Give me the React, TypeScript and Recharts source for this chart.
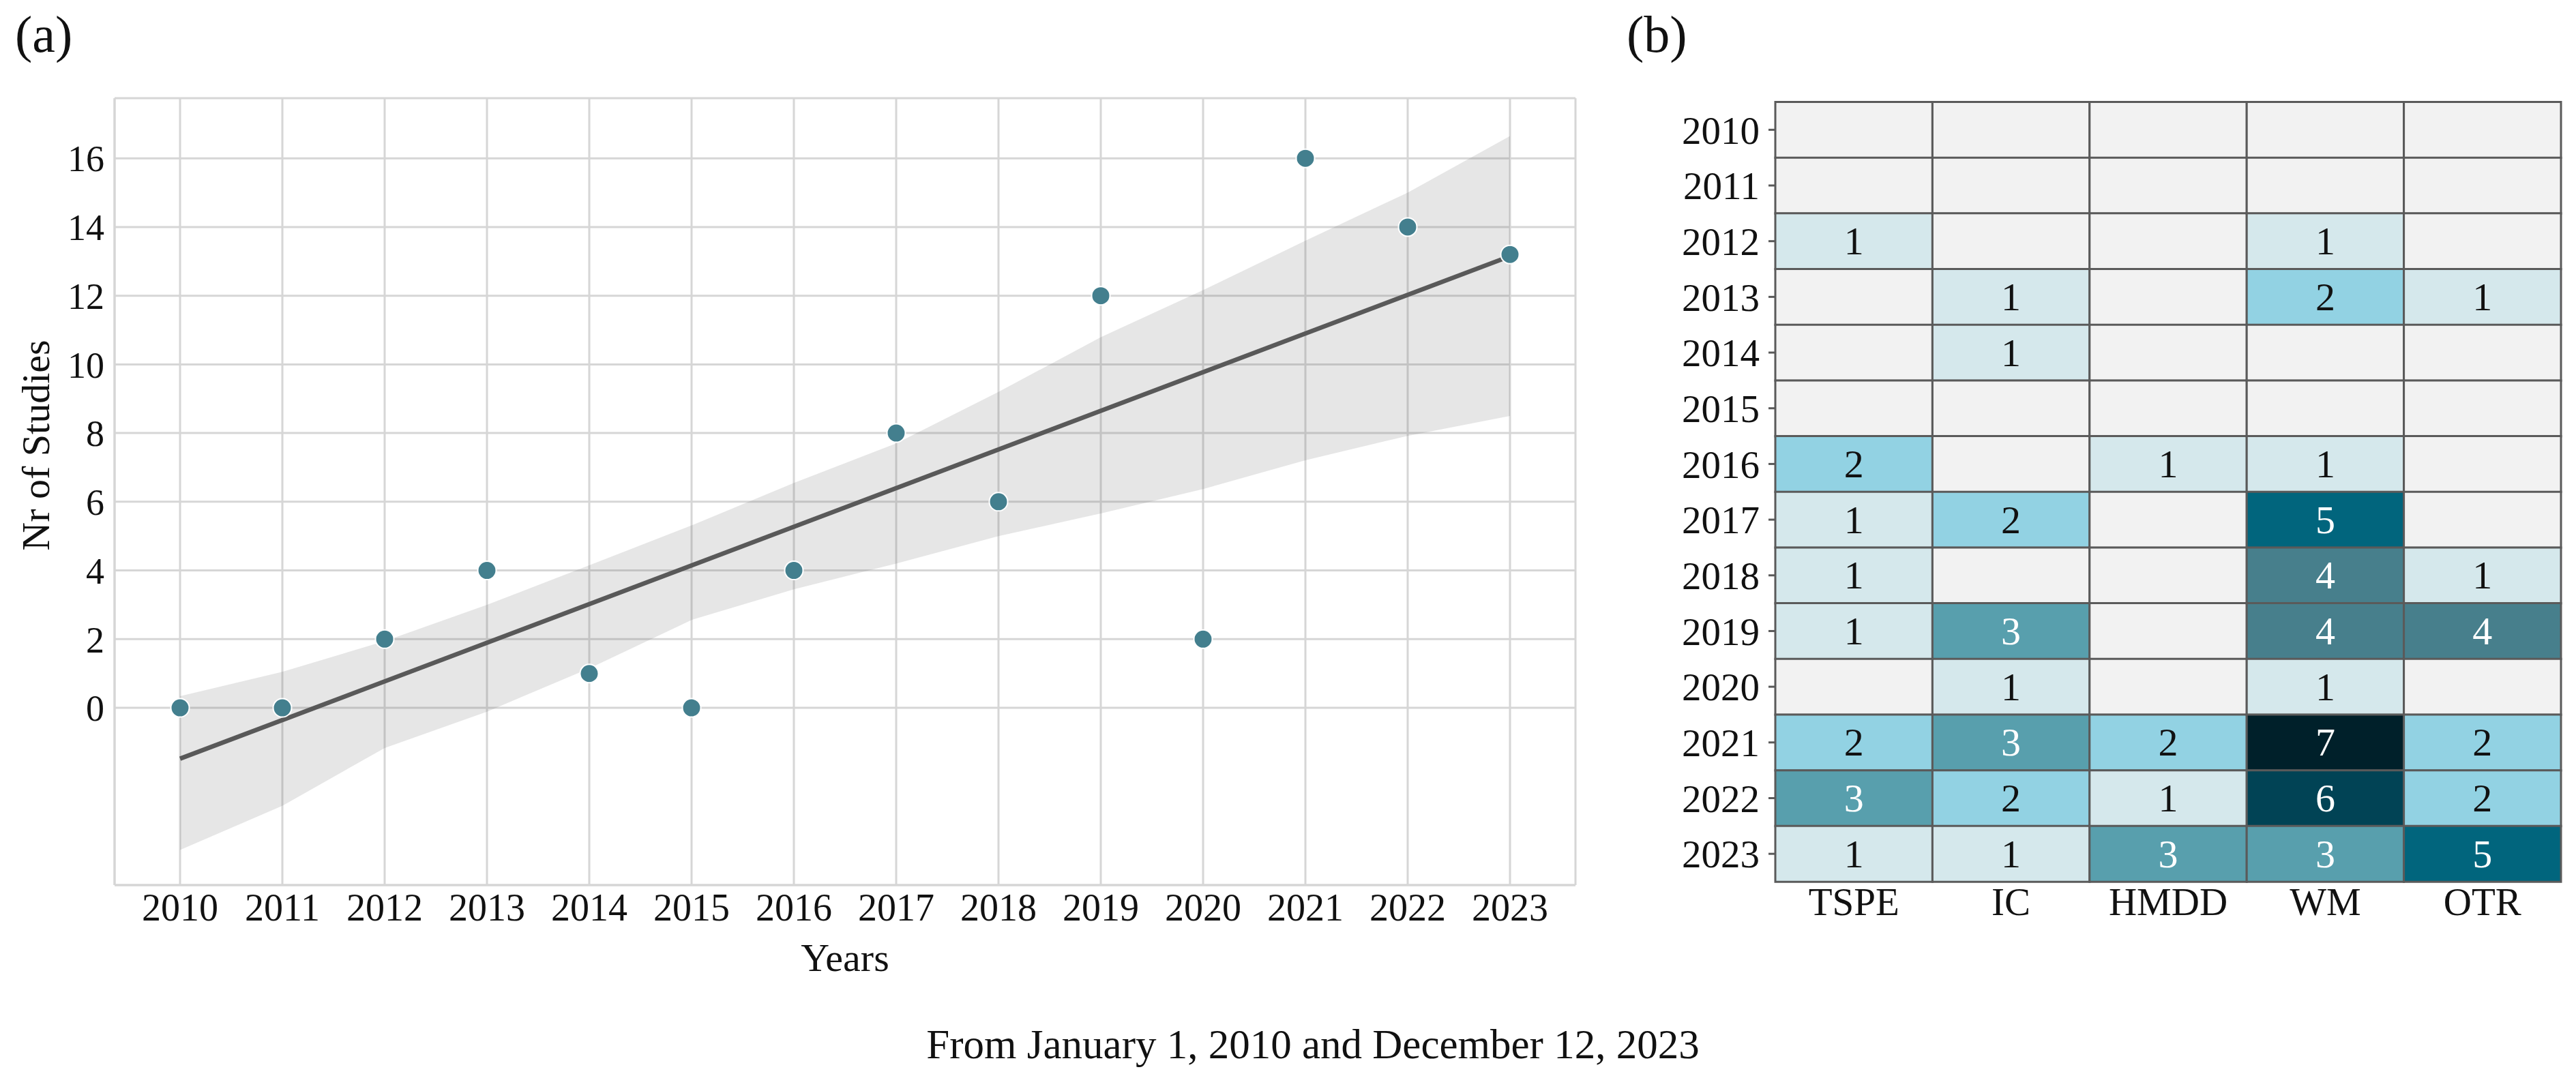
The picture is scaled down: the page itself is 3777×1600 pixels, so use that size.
import React from 'react';
import {
  ComposedChart,
  BarChart,
  Bar,
  Cell,
  LabelList,
  XAxis,
  YAxis,
  CartesianGrid,
  Area,
  Line,
  Scatter,
  Label,
} from 'recharts';

// ---------- data: panel (a) ----------
const years = [2010, 2011, 2012, 2013, 2014, 2015, 2016, 2017, 2018, 2019, 2020, 2021, 2022, 2023];
const studies = [0, 0, 2, 4, 1, 0, 4, 8, 6, 12, 2, 16, 14, 13.2];
const bandLow = [-4.14, -2.85, -1.17, -0.11, 1.15, 2.56, 3.45, 4.2, 5.0, 5.66, 6.37, 7.21, 7.92, 8.5];
const bandHigh = [0.34, 1.05, 1.94, 3.0, 4.15, 5.31, 6.55, 7.7, 9.2, 10.79, 12.16, 13.6, 15.0, 16.65];
const fitYears = [2010, 2023];
const fitValues = [-1.48, 13.15];
const yTicks = [0, 2, 4, 6, 8, 10, 12, 14, 16];
const xDomain = [2009.36, 2023.64];
const yDomain = [-5.16, 17.75];

// ---------- data: panel (b) ----------
const categories = ['TSPE', 'IC', 'HMDD', 'WM', 'OTR'];
const tspe = [0, 0, 1, 0, 0, 0, 2, 1, 1, 1, 0, 2, 3, 1];
const ic = [0, 0, 0, 1, 1, 0, 0, 2, 0, 3, 1, 3, 2, 1];
const hmdd = [0, 0, 0, 0, 0, 0, 1, 0, 0, 0, 0, 2, 1, 3];
const wm = [0, 0, 1, 2, 0, 0, 1, 5, 4, 4, 1, 7, 6, 3];
const otr = [0, 0, 0, 1, 0, 0, 0, 0, 1, 4, 0, 2, 2, 5];
const heatSeries = [tspe, ic, hmdd, wm, otr];
const colTicks = [0.5, 1.5, 2.5, 3.5, 4.5];

const heatColors = ['#f2f2f2', '#d5e8ec', '#92d2e3', '#589fad', '#477f8c', '#01657d', '#014355', '#00202a'];

const FONT = "'Liberation Serif', 'Times New Roman', serif";
const GRID = '#d6d6d6';
const POINT = '#437f8e';
const LINE = '#595959';
const CELL_BORDER = '#5a5a5a';

const trendData = years.map((y, i) => {
  const fi = fitYears.indexOf(y);
  return {
    year: y,
    count: studies[i],
    band: [bandLow[i], bandHigh[i]],
    fit: fi >= 0 ? fitValues[fi] : null,
  };
});

const heatRows = years.map((y, i) => {
  const row: any = { year: String(y) };
  categories.forEach((c, j) => {
    row[c] = heatSeries[j][i];
    row['u_' + c] = 1;
  });
  return row;
});

const CellLabel = (props: any) => {
  const { x, y, width, height, value } = props;
  if (!value) return null;
  return (
    <text
      x={x + width / 2}
      y={y + height / 2}
      textAnchor="middle"
      dominantBaseline="central"
      fontFamily={FONT}
      fontSize={58}
      fill={value >= 3 ? '#ffffff' : '#111111'}
    >
      {value}
    </text>
  );
};

const TrendChart = () => (
  <ComposedChart
    width={2400}
    height={1480}
    data={trendData}
    margin={{ top: 144, right: 90, bottom: 56, left: 0 }}
    style={{ fontFamily: FONT }}
  >
    <CartesianGrid stroke={GRID} strokeWidth={3} />
    <XAxis
      dataKey="year"
      type="number"
      domain={xDomain}
      ticks={years}
      interval={0}
      allowDataOverflow
      height={126}
      tickLine={false}
      tickSize={0}
      tickMargin={12}
      axisLine={{ stroke: GRID, strokeWidth: 3 }}
      tick={{ fontSize: 56, fill: '#111', fontFamily: FONT }}
    >
      <Label value="Years" position="insideBottom" offset={0} fontSize={58} fill="#111" fontFamily={FONT} />
    </XAxis>
    <XAxis
      xAxisId="top"
      orientation="top"
      type="number"
      domain={xDomain}
      allowDataOverflow
      height={0}
      tick={false}
      tickLine={false}
      axisLine={{ stroke: GRID, strokeWidth: 3 }}
    />
    <YAxis
      type="number"
      domain={yDomain}
      ticks={yTicks}
      interval={0}
      allowDataOverflow
      width={168}
      tickLine={false}
      tickSize={0}
      tickMargin={15}
      axisLine={{ stroke: GRID, strokeWidth: 3 }}
      tick={{ fontSize: 54, fill: '#111', fontFamily: FONT }}
    >
      <Label
        content={() => (
          <text
            x={52}
            y={653}
            transform="rotate(-90 52 653)"
            textAnchor="middle"
            dominantBaseline="central"
            fontFamily={FONT}
            fontSize={58}
            fill="#111"
          >
            Nr of Studies
          </text>
        )}
      />
    </YAxis>
    <YAxis
      yAxisId="right"
      orientation="right"
      type="number"
      domain={yDomain}
      allowDataOverflow
      width={0}
      tick={false}
      tickLine={false}
      axisLine={{ stroke: GRID, strokeWidth: 3 }}
    />
    <Area
      type="linear"
      dataKey="band"
      stroke="none"
      fill={LINE}
      fillOpacity={0.15}
      isAnimationActive={false}
      activeDot={false}
    />
    <Line
      type="linear"
      dataKey="fit"
      stroke={LINE}
      strokeWidth={6.5}
      dot={false}
      activeDot={false}
      connectNulls
      isAnimationActive={false}
    />
    <Scatter
      dataKey="count"
      isAnimationActive={false}
      shape={(p: any) => (
        <circle cx={p.cx} cy={p.cy} r={13.5} fill={POINT} stroke="#ffffff" strokeWidth={2} />
      )}
    />
  </ComposedChart>
);

const HeatChart = () => (
  <BarChart
    width={1377}
    height={1400}
    data={heatRows}
    layout="vertical"
    barCategoryGap={0}
    margin={{ top: 149.5, right: 22, bottom: 7, left: 0 }}
    style={{ fontFamily: FONT }}
  >
    <XAxis
      type="number"
      domain={[0, 5]}
      ticks={colTicks}
      interval={0}
      height={100}
      axisLine={false}
      tickLine={false}
      tickSize={0}
      tickMargin={9}
      tickFormatter={(v: number) => categories[Math.floor(v)]}
      tick={{ fontSize: 57, fill: '#111', fontFamily: FONT }}
    />
    <YAxis
      type="category"
      dataKey="year"
      width={203}
      interval={0}
      axisLine={false}
      tickSize={10}
      tickMargin={13}
      tickLine={{ stroke: CELL_BORDER, strokeWidth: 3 }}
      tick={{ fontSize: 57, fill: '#111', fontFamily: FONT }}
    />
    {categories.map((c, j) => (
      <Bar
        key={c}
        dataKey={'u_' + c}
        stackId="heat"
        stroke={CELL_BORDER}
        strokeWidth={3}
        isAnimationActive={false}
      >
        {heatRows.map((r, i) => (
          <Cell key={i} fill={heatColors[heatSeries[j][i]]} />
        ))}
        <LabelList dataKey={c} content={CellLabel} />
      </Bar>
    ))}
  </BarChart>
);

export default function App() {
  return (
    <div style={{ position: 'absolute', left: 0, top: 0, width: 3777, height: 1600, background: '#fff' }}>
      <div style={{ position: 'absolute', left: 0, top: 0 }}>
        <TrendChart />
      </div>
      <div style={{ position: 'absolute', left: 2400, top: 0 }}>
        <HeatChart />
      </div>
      <svg
        width={3777}
        height={1600}
        style={{ position: 'absolute', left: 0, top: 0, pointerEvents: 'none' }}
      >
        <text x={22} y={76} fontFamily={FONT} fontSize={76} fill="#111">
          (a)
        </text>
        <text x={2385} y={76} fontFamily={FONT} fontSize={76} fill="#111">
          (b)
        </text>
        <text x={1925} y={1552} textAnchor="middle" fontFamily={FONT} fontSize={61} fill="#111">
          From January 1, 2010 and December 12, 2023
        </text>
      </svg>
    </div>
  );
}
